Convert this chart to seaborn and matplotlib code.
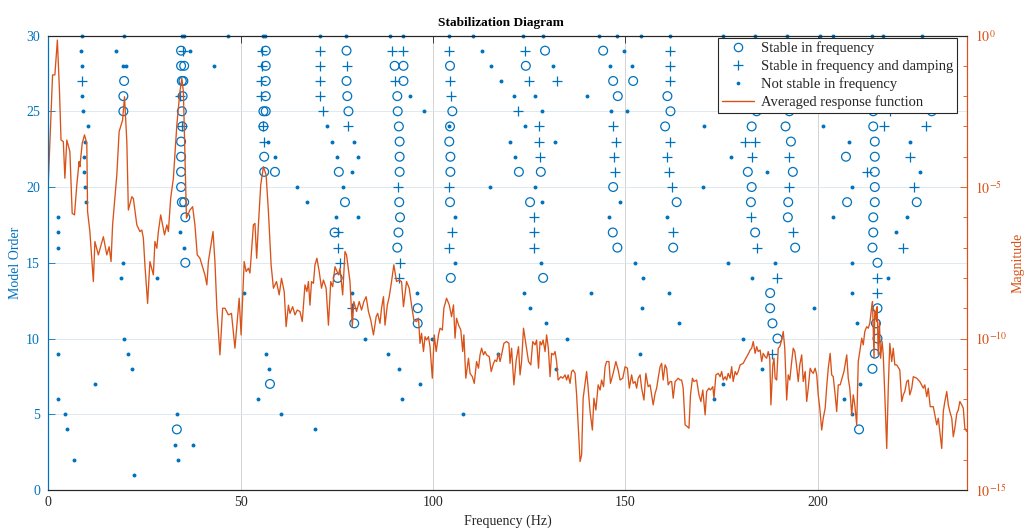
import numpy as np
import pandas as pd
import matplotlib
matplotlib.use("Agg")
import matplotlib.pyplot as plt
from matplotlib.lines import Line2D
from matplotlib.ticker import FixedLocator, FuncFormatter
import seaborn as sns

# ---------------------------------------------------------------------------
# Poles of the stabilization diagram: frequencies (Hz) per model order 1..30
# ---------------------------------------------------------------------------
stable_freq_by_order = [
    [],                                                        # 1
    [],                                                        # 2
    [],                                                        # 3
    [33.4, 210.7],                                             # 4
    [],                                                        # 5
    [],                                                        # 6
    [57.6],                                                    # 7
    [214.2],                                                   # 8
    [214.8],                                                   # 9
    [189.5, 215.5],                                            # 10
    [79.5, 96.0, 188.2, 215.1],                                # 11
    [96.0, 187.6, 215.5],                                      # 12
    [187.6],                                                   # 13
    [75.2, 104.6, 128.6],                                      # 14
    [35.6, 215.5],                                             # 15
    [90.7, 147.9, 162.4, 194.1, 214.2],                        # 16
    [74.4, 91.0, 146.7, 183.7, 214.4],                         # 17
    [35.6, 91.4, 192.2, 214.4],                                # 18
    [34.7, 35.3, 77.1, 91.2, 104.4, 125.2, 163.3, 182.6, 192.3,
     207.6, 214.8, 225.7],                                     # 19
    [34.5, 146.8, 182.8, 214.8],                               # 20
    [34.5, 56.1, 58.9, 75.5, 91.3, 104.5, 122.3, 128.0, 181.8,
     193.5, 214.8],                                            # 21
    [34.5, 56.1, 91.3, 104.5, 207.3, 214.8],                   # 22
    [34.5, 91.3, 104.2, 193.0, 214.8],                         # 23
    [34.8, 55.9, 91.1, 104.4, 160.3, 182.8, 191.6, 214.4],     # 24
    [19.5, 34.7, 55.9, 56.5, 78.0, 90.8, 105.0, 161.7, 184.1,
     192.6, 214.4, 229.6],                                     # 25
    [19.5, 34.9, 56.5, 77.7, 90.7, 148.0, 160.9],              # 26
    [19.7, 34.7, 35.1, 56.5, 77.5, 92.3, 146.8, 152.0],        # 27
    [34.5, 35.3, 56.5, 90.0, 92.3, 104.4, 124.1],              # 28
    [34.5, 56.5, 77.5, 129.1, 144.2],                          # 29
    [],                                                        # 30
]

stable_damp_freq_by_order = [
    [], [], [], [], [], [], [], [],                            # 1-8
    [188.0],                                                   # 9
    [],                                                        # 10
    [],                                                        # 11
    [79.0],                                                    # 12
    [215.5],                                                   # 13
    [91.2, 189.3, 215.3],                                      # 14
    [75.8, 91.4],                                              # 15
    [75.2, 104.2, 126.1, 184.3, 222.2],                        # 16
    [75.2, 104.8, 126.3, 162.4, 193.6],                        # 17
    [126.3, 182.6],                                            # 18
    [],                                                        # 19
    [90.9, 104.2, 162.0, 192.5, 225.0],                        # 20
    [147.2, 161.4, 212.9],                                     # 21
    [127.8, 147.0, 160.7, 183.0, 192.5, 224.0],                # 22
    [56.1, 127.4, 147.5, 161.6, 181.1, 183.7],                 # 23
    [34.8, 55.9, 77.9, 127.6, 146.8, 217.2, 228.1],            # 24
    [71.3, 122.0, 218.7],                                      # 25
    [34.2, 55.2, 70.6, 104.6],                                 # 26
    [8.85, 55.2, 70.5, 90.1, 104.4, 124.9, 132.1, 161.6],      # 27
    [55.6, 70.5, 77.5, 161.6],                                 # 28
    [35.1, 55.6, 70.5, 89.2, 92.3, 104.2, 124.0, 161.6],       # 29
    [],                                                        # 30
]

unstable_freq_by_order = [
    [22.2],                                                    # 1
    [6.7, 33.8],                                               # 2
    [32.9, 37.7],                                              # 3
    [4.8, 69.4],                                               # 4
    [4.3, 33.5, 60.5, 107.9, 208.9],                           # 5
    [2.5, 54.5, 91.9, 173.0, 206.8],                           # 6
    [12.0, 96.6, 175.4, 210.9],                                # 7
    [21.7, 57.4, 91.2, 131.9, 185.5],                          # 8
    [2.5, 20.8, 56.5, 88.4, 116.8, 153.8],                     # 9
    [19.6, 82.3, 99.8, 134.9, 180.6],                          # 10
    [129.4, 164.0, 210.3],                                     # 11
    [125.2, 154.4, 199.1],                                     # 12
    [50.9, 79.0, 95.9, 123.5, 141.0, 161.4, 208.9],            # 13
    [18.9, 28.3, 154.6, 183.0, 218.3],                         # 14
    [19.4, 105.7, 128.0, 152.5, 176.7, 188.9, 208.8],          # 15
    [2.5, 35.3],                                               # 16
    [2.5, 34.1, 220.3],                                        # 17
    [2.5, 74.7, 80.4, 105.7, 145.8, 160.9, 204.0, 223.2],      # 18
    [9.8, 67.2, 128.4, 148.6],                                 # 19
    [9.5, 64.5, 76.5, 114.9, 126.5, 170.2, 208.8],             # 20
    [9.2, 78.8, 186.9, 226.5],                                 # 21
    [9.2, 58.8, 74.9, 80.5, 121.3, 177.4],                     # 22
    [9.45, 57.2, 73.6, 79.4, 120.0, 131.8, 208.0, 223.9],      # 23
    [10.3, 72.3, 104.2, 123.9, 170.5, 201.4],                  # 24
    [9.1, 97.6, 128.2, 146.2, 150.3],                          # 25
    [8.7, 94.1, 120.9, 126.5, 139.9],                          # 26
    [117.6],                                                   # 27
    [8.8, 19.5, 20.1, 43.1, 115.0, 131.1, 146.1, 151.8],       # 28
    [8.6, 17.6, 36.8, 112.6, 149.6],                           # 29
    [8.8, 19.7, 34.7, 35.3, 46.8, 55.8, 56.4, 70.6, 77.4, 88.8,
     92.3, 104.2, 110.4, 123.3, 128.5, 143.0, 147.7, 154.0,
     161.6, 175.4, 183.6, 191.9, 200.5, 204.0, 214.0, 217.0,
     227.0],                                                   # 30
]

# ---------------------------------------------------------------------------
# Averaged response function: frequency (Hz) and log10 of the magnitude
# ---------------------------------------------------------------------------
resp_hz = [
    0.0, 1.1, 1.7, 2.35, 2.9, 3.3, 3.9, 4.3, 4.8, 5.6,
    6.2, 6.8, 7.4, 8.0, 8.2, 8.8, 9.4, 10.0, 10.2, 10.8,
    11.4, 11.7, 12.1, 13.0, 14.3, 15.2, 15.8, 16.3, 16.7, 17.8,
    18.4, 19.3, 19.8, 20.4, 20.8, 21.7, 22.1, 23.0, 23.8, 24.3,
    24.7, 25.1, 25.8, 26.4, 27.3, 27.7, 28.2, 28.6, 29.2, 29.7,
    30.2, 30.8, 31.2, 31.8, 32.5, 33.4, 34.2, 34.7, 35.1, 35.5,
    35.9, 36.8, 37.5, 38.1, 38.7, 39.4, 40.7, 41.2, 41.6, 42.8,
    43.3, 43.8, 44.6, 45.3, 45.9, 46.8, 47.6, 48.5, 49.6, 50.1,
    50.9, 51.4, 52.0, 52.4, 53.3, 53.7, 54.15, 54.6, 55.2, 55.9,
    56.6, 57.2, 57.9, 58.5, 59.3, 60.0, 60.6, 61.3, 61.8, 62.4,
    62.8, 63.5, 64.1, 64.7, 65.4, 66.0, 66.7, 67.2, 67.6, 68.0,
    68.4, 68.9, 69.3, 69.8, 70.4, 71.0, 71.5, 72.2, 72.8, 73.4,
    73.9, 74.5, 75.4, 75.8, 76.5, 77.1, 77.5, 78.4, 79.0, 79.4,
    80.1, 80.8, 81.4, 82.0, 82.6, 83.2, 83.8, 84.5, 85.2, 85.6,
    86.2, 86.6, 87.1, 87.5, 88.1, 88.6, 89.2, 89.8, 90.5, 91.2,
    91.8, 92.3, 93.1, 93.8, 94.4, 95.0, 95.7, 96.2, 96.6, 97.0,
    97.5, 97.9, 98.3, 98.8, 99.2, 99.8, 100.3, 100.8, 101.4, 101.8,
    102.4, 102.8, 103.5, 104.2, 104.8, 105.3, 105.7, 106.1, 106.6, 107.2,
    107.7, 108.0, 108.5, 109.2, 109.6, 110.2, 110.7, 111.3, 111.8, 112.2,
    112.6, 113.1, 113.5, 113.9, 114.6, 115.1, 115.7, 116.1, 116.5, 117.0,
    117.4, 117.8, 118.4, 119.1, 119.7, 120.0, 120.4, 121.0, 121.6, 122.2,
    122.6, 123.0, 123.5, 124.1, 124.8, 125.4, 125.9, 126.5, 126.9, 127.4,
    127.8, 128.2, 128.6, 129.1, 129.5, 129.95, 130.4, 130.8, 131.3, 131.7,
    132.1, 132.5, 133.2, 133.7, 134.3, 134.7, 135.1, 135.6, 136.0, 136.4,
    136.9, 137.3, 137.7, 138.2, 138.6, 139.0, 139.9, 140.3, 140.8, 141.4,
    141.8, 142.3, 142.9, 143.4, 143.8, 144.3, 144.7, 145.1, 145.7, 146.1,
    146.8, 147.5, 148.1, 148.6, 149.3, 149.9, 150.5, 151.0, 151.6, 152.0,
    152.5, 152.9, 153.3, 153.8, 154.2, 154.8, 155.3, 155.9, 156.4, 157.2,
    157.7, 158.1, 158.5, 159.0, 159.4, 159.8, 160.3, 160.7, 161.1, 161.6,
    162.0, 162.4, 162.9, 163.3, 163.7, 164.2, 164.6, 165.0, 165.5, 166.1,
    166.5, 166.9, 167.4, 167.8, 168.5, 169.1, 169.6, 170.1, 170.7, 171.1,
    171.7, 172.1, 172.7, 173.0, 173.5, 174.1, 174.6, 175.0, 175.4, 175.9,
    176.3, 176.7, 177.2, 177.6, 178.0, 178.5, 178.9, 179.3, 179.8, 180.6,
    181.3, 182.0, 182.4, 182.8, 183.2, 183.7, 184.1, 184.5, 185.0, 185.4,
    185.8, 186.3, 186.7, 187.1, 187.5, 187.8, 188.3, 188.6, 188.9, 189.3,
    189.7, 190.1, 190.6, 191.0, 191.4, 191.9, 192.3, 192.7, 193.2, 193.6,
    194.0, 194.5, 194.9, 195.3, 195.8, 196.2, 196.7, 197.1, 197.5, 198.0,
    198.4, 198.8, 199.3, 199.7, 200.1, 200.5, 201.0, 201.4, 201.9, 202.3,
    202.7, 203.2, 203.6, 204.0, 204.5, 204.9, 205.3, 205.8, 206.8, 207.5,
    207.9, 208.3, 208.8, 209.2, 209.6, 210.1, 210.5, 210.9, 211.4, 211.8,
    212.2, 212.7, 213.1, 213.5, 214.0, 214.2, 214.6, 214.8, 215.3, 215.4,
    215.7, 216.0, 216.3, 216.7, 217.0, 217.4, 217.9, 218.3, 218.7, 219.2,
    219.6, 220.0, 220.5, 221.3, 221.8, 222.2, 222.6, 223.1, 223.5, 223.9,
    224.4, 224.8, 225.7, 226.5, 227.4, 227.8, 228.3, 228.7, 229.2, 230.0,
    230.9, 231.3, 231.7, 232.2, 232.6, 233.0, 233.5, 233.9, 234.3, 234.8,
    235.2, 235.6, 236.1, 236.5, 236.9, 237.4, 237.8, 238.2, 238.7,
]

resp_log10 = [
    -4.82, -1.30, -1.30, -0.15, -1.85, -3.45, -3.50, -4.71, -3.45, -3.83,
    -5.87, -5.92, -4.93, -4.16, -4.33, -3.56, -3.28, -3.56, -5.81, -6.47,
    -7.57, -8.12, -6.80, -7.24, -6.64, -7.24, -6.97, -7.46, -6.25, -4.60,
    -3.17, -2.79, -2.02, -3.50, -5.76, -5.32, -5.38, -6.25, -6.47, -6.42,
    -6.69, -7.57, -8.84, -7.46, -7.90, -6.80, -7.02, -6.47, -5.92, -6.25,
    -6.58, -6.25, -6.47, -5.37, -4.71, -2.95, -1.85, -1.41, -1.85, -3.94,
    -6.03, -5.76, -5.65, -6.25, -7.24, -7.35, -7.90, -8.23, -7.46, -6.47,
    -7.46, -9.00, -10.54, -9.00, -9.00, -9.22, -9.17, -10.32, -8.67, -9.88,
    -7.46, -7.79, -7.68, -7.84, -6.25, -6.20, -7.35, -6.25, -4.93, -4.33,
    -4.60, -5.81, -7.57, -8.34, -8.12, -8.56, -8.01, -8.45, -9.61, -8.90,
    -9.17, -8.95, -9.22, -9.06, -9.11, -9.44, -8.23, -8.45, -8.12, -8.90,
    -8.12, -8.18, -7.57, -7.35, -7.79, -8.34, -8.07, -8.34, -9.56, -8.12,
    -8.29, -7.63, -7.90, -7.68, -8.56, -7.13, -7.24, -8.12, -9.61, -8.78,
    -9.11, -8.78, -9.06, -8.78, -8.62, -9.11, -9.39, -9.88, -9.28, -9.17,
    -9.50, -9.00, -8.62, -9.56, -8.90, -8.62, -8.12, -7.57, -8.12, -8.07,
    -8.12, -8.95, -8.12, -8.34, -8.90, -9.39, -9.44, -9.33, -10.16, -9.83,
    -10.43, -9.94, -10.05, -9.94, -10.27, -11.31, -9.88, -10.43, -9.88, -9.66,
    -9.72, -9.00, -8.67, -8.89, -9.28, -8.89, -9.99, -9.33, -9.55, -9.72,
    -10.43, -9.88, -11.31, -10.65, -11.15, -11.26, -11.48, -10.76, -10.98, -10.54,
    -10.32, -10.54, -10.43, -10.54, -10.60, -11.09, -10.82, -10.71, -10.76, -10.49,
    -10.76, -10.54, -10.16, -10.10, -10.16, -10.82, -10.32, -11.53, -10.71, -10.27,
    -11.20, -10.76, -9.66, -10.16, -10.76, -10.87, -10.10, -10.21, -10.05, -10.98,
    -10.10, -10.21, -10.05, -10.43, -9.88, -10.32, -11.26, -10.49, -10.54, -10.43,
    -10.76, -11.37, -11.26, -11.31, -11.20, -11.37, -11.20, -11.48, -11.09, -11.04,
    -11.15, -11.86, -12.85, -14.06, -13.84, -11.97, -11.09, -11.64, -12.41, -13.02,
    -11.97, -12.36, -11.53, -11.70, -11.37, -11.59, -10.93, -10.76, -10.76, -11.48,
    -11.15, -10.76, -11.04, -11.37, -11.31, -10.93, -10.98, -11.64, -11.20, -11.48,
    -11.42, -11.64, -11.31, -11.20, -11.64, -12.03, -11.15, -11.59, -11.53, -12.19,
    -11.81, -11.64, -11.31, -10.93, -10.82, -11.37, -10.87, -10.98, -11.53, -11.42,
    -11.42, -11.97, -11.42, -11.37, -11.31, -11.37, -11.37, -11.64, -12.85, -12.91,
    -12.96, -11.86, -11.31, -11.42, -11.37, -11.86, -12.08, -11.70, -12.52, -11.75,
    -11.64, -11.70, -11.59, -11.97, -11.20, -11.15, -11.26, -11.09, -11.37, -11.26,
    -11.37, -11.15, -11.31, -10.93, -11.42, -11.09, -11.20, -11.09, -10.87, -10.82,
    -10.65, -10.49, -10.38, -10.32, -10.10, -10.49, -10.27, -10.43, -10.38, -10.76,
    -10.49, -10.60, -10.65, -10.43, -10.65, -12.19, -10.87, -10.65, -11.31, -11.37,
    -10.32, -10.27, -10.05, -9.77, -10.32, -12.03, -11.20, -11.37, -10.76, -10.32,
    -10.43, -10.93, -11.42, -10.87, -10.54, -11.42, -11.09, -12.08, -11.64, -10.98,
    -11.09, -11.15, -10.98, -11.20, -11.86, -12.30, -13.02, -12.63, -12.30, -11.59,
    -10.98, -10.49, -11.20, -11.26, -11.86, -12.41, -11.53, -11.53, -11.08, -10.54,
    -11.31, -11.64, -12.52, -11.86, -12.19, -12.85, -10.76, -10.43, -9.99, -10.21,
    -9.77, -9.61, -9.66, -9.50, -8.95, -8.78, -10.65, -9.06, -9.44, -8.95,
    -10.54, -9.44, -10.65, -10.10, -10.54, -11.86, -13.63, -11.64, -10.16, -10.76,
    -10.32, -10.87, -10.87, -11.04, -12.08, -11.86, -11.75, -11.42, -11.37, -11.86,
    -11.64, -11.26, -11.31, -11.42, -11.64, -11.53, -11.92, -11.64, -12.25, -12.25,
    -12.85, -12.63, -13.07, -13.63, -12.41, -12.08, -11.75, -12.19, -12.41, -12.63,
    -13.24, -12.96, -12.47, -12.36, -12.08, -12.19, -12.30, -12.96, -13.07,
]

legend_labels = [
    "Stable in frequency",
    "Stable in frequency and damping",
    "Not stable in frequency",
    "Averaged response function",
]
x_ticks = [0, 50, 100, 150, 200]
order_ticks = [0, 5, 10, 15, 20, 25, 30]

BLUE = "#0072BD"
ORANGE = "#D95319"
DARK = "#262626"


def poles_frame(freqs_by_order):
    rows = [(f, order) for order, fs in enumerate(freqs_by_order, start=1)
            for f in fs]
    return pd.DataFrame(rows, columns=["freq", "order"])


stable_df = poles_frame(stable_freq_by_order)
damp_df = poles_frame(stable_damp_freq_by_order)
unstable_df = poles_frame(unstable_freq_by_order)
resp_df = pd.DataFrame({"freq": resp_hz,
                        "mag": np.power(10.0, np.asarray(resp_log10))})

sns.set_theme(style="white")
plt.rcParams["font.family"] = ["Liberation Serif", "DejaVu Serif"]
plt.rcParams["mathtext.fontset"] = "stix"

fig = plt.figure(figsize=(10.24, 5.31), dpi=100)
ax = fig.add_axes([0.0472, 0.0772, 0.8969, 0.8559])

# model-order poles on the left axis
sns.scatterplot(data=stable_df, x="freq", y="order", ax=ax, marker="o",
                s=40, color=BLUE, facecolor="none", edgecolor=BLUE,
                linewidth=0.9, clip_on=False, legend=False, zorder=3)
sns.scatterplot(data=damp_df, x="freq", y="order", ax=ax, marker="+",
                s=52, color=BLUE, linewidth=0.9, clip_on=False,
                legend=False, zorder=3)
sns.scatterplot(data=unstable_df, x="freq", y="order", ax=ax, marker="o",
                s=8, color=BLUE, linewidth=0, clip_on=False, legend=False,
                zorder=3)

ax.set_xlim(0, 238.7)
ax.set_ylim(0, 30)
ax.set_xticks(x_ticks)
ax.set_yticks(order_ticks)
ax.set_axisbelow(True)
ax.xaxis.grid(True, color="#cdcdcd", linewidth=0.6)
ax.yaxis.grid(True, color="#dce5ee", linewidth=0.6)
ax.tick_params(axis="x", direction="in", length=5, width=0.6, top=True,
               colors=DARK, labelsize=10, pad=4)
ax.tick_params(axis="y", direction="in", length=5, width=0.6,
               colors=BLUE, labelsize=10, pad=6)
ax.set_xlabel("Frequency (Hz)", fontsize=10, color=DARK, labelpad=4)
ax.set_ylabel("Model Order", fontsize=10, color=BLUE, labelpad=3)
ax.set_title("Stabilization Diagram", fontsize=9.6, fontweight="bold",
             color="black", pad=7, x=0.493)

# averaged response function on the right (log) axis
ax2 = ax.twinx()
sns.lineplot(data=resp_df, x="freq", y="mag", ax=ax2, color=ORANGE,
             linewidth=0.95, estimator=None, sort=False, legend=False)
ax2.set_yscale("log")
ax2.set_ylim(1e-15, 1.0)
ax2.set_xlim(0, 238.7)
ax2.yaxis.set_major_locator(FixedLocator([1e-15, 1e-10, 1e-5, 1.0]))
ax2.yaxis.set_minor_locator(FixedLocator([10.0 ** k for k in range(-15, 1)]))
ax2.yaxis.set_major_formatter(
    FuncFormatter(lambda v, _: rf"$10^{{{int(round(np.log10(v)))}}}$"))
ax2.yaxis.set_minor_formatter(FuncFormatter(lambda v, _: ""))
ax2.tick_params(axis="y", which="major", direction="in", length=5,
                width=0.6, colors=ORANGE, labelsize=10, pad=6)
ax2.tick_params(axis="y", which="minor", direction="in", length=3,
                width=0.6, colors=ORANGE)
ax2.set_xlabel("")
ax2.set_ylabel("Magnitude", fontsize=10, color=ORANGE, labelpad=3)

for a in (ax, ax2):
    a.spines["left"].set_color(BLUE)
    a.spines["right"].set_color(ORANGE)
    a.spines["top"].set_color(DARK)
    a.spines["bottom"].set_color(DARK)
    for s in a.spines.values():
        s.set_linewidth(0.8)

handles = [
    Line2D([], [], linestyle="none", marker="o", markersize=6,
           markerfacecolor="none", markeredgecolor=BLUE, markeredgewidth=0.9),
    Line2D([], [], linestyle="none", marker="+", markersize=7,
           color=BLUE, markeredgewidth=0.9),
    Line2D([], [], linestyle="none", marker="o", markersize=2.7,
           color=BLUE, markeredgewidth=0),
    Line2D([], [], color=ORANGE, linewidth=1.0),
]
leg = ax2.legend(handles, legend_labels, loc="upper right",
                 bbox_to_anchor=(0.9894, 0.9945), frameon=True,
                 fancybox=False, edgecolor=DARK, framealpha=1.0,
                 fontsize=10.5, borderpad=0.25, labelspacing=0.28,
                 handlelength=2.2, handletextpad=0.5, borderaxespad=0.0)
leg.get_frame().set_linewidth(0.8)
leg.set_zorder(10)

fig.savefig("out.png", dpi=100)
